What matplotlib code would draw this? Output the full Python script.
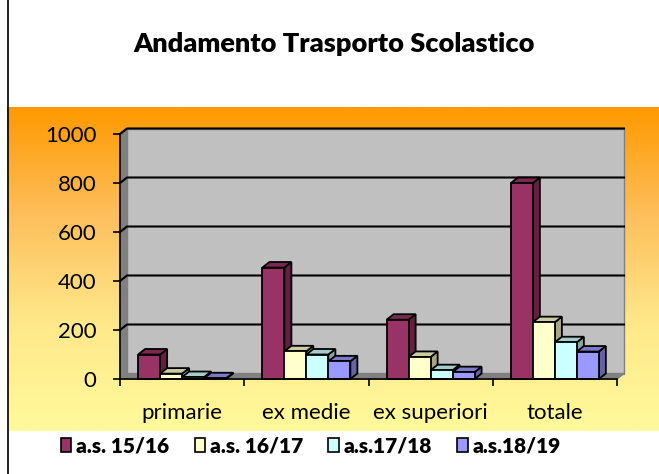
import numpy as np
import matplotlib.pyplot as plt
from matplotlib.patches import Polygon, Patch
from matplotlib.colors import LinearSegmentedColormap, to_rgb

# --- data ---
categories = ["primarie", "ex medie", "ex superiori", "totale"]
series_names = ["a.s. 15/16", "a.s. 16/17", "a.s.17/18", "a.s.18/19"]
as_15_16 = [100, 455, 242, 800]
as_16_17 = [22, 113, 90, 232]
as_17_18 = [8, 100, 36, 150]
as_18_19 = [3, 72, 28, 112]
yticks = [0, 200, 400, 600, 800, 1000]

series = [as_15_16, as_16_17, as_17_18, as_18_19]
colors = ["#993366", "#FFFFCC", "#CCFFFF", "#9999FF"]

plt.rcParams['font.family'] = ['Lato', 'DejaVu Sans']

W, H = 659, 474
fig = plt.figure(figsize=(W / 100, H / 100), dpi=100)

# orange -> yellow background band
bg = fig.add_axes([7 / W, (H - 431) / H, 1 - 7 / W, (431 - 107) / H])
grad = np.linspace(0, 1, 256).reshape(-1, 1)
cmap = LinearSegmentedColormap.from_list("band", ["#FF9900", "#FDBF5C", "#FFE88A", "#FFFA9C"])
bg.imshow(grad, aspect="auto", cmap=cmap, extent=[0, 1, 0, 1], origin="upper")
bg.axis("off")

# left border line
fig.add_artist(plt.Line2D([7.5 / W, 7.5 / W], [0, 1], color="black", lw=1.2))

fig.text(334 / W, 1 - 44 / H, "Andamento Trasporto Scolastico", ha="center", va="center",
         fontsize=19.5, fontweight="heavy")

ax = fig.add_axes([120 / W, (H - 379) / H, 497 / W, 245 / H])
ax.set_xlim(0, len(categories))
ax.set_ylim(0, 1000)
ax.patch.set_alpha(0)
for s in ax.spines.values():
    s.set_visible(False)

n = len(categories)
dx = 7 / 124.25          # depth in category units
dy = 5.5 / 245 * 1000    # depth in value units

def poly(pts, fc, ec="black", lw=1.3, z=1):
    ax.add_patch(Polygon(pts, closed=True, facecolor=fc, edgecolor=ec, lw=lw,
                         clip_on=False, zorder=z, joinstyle="miter"))

# walls and floor
poly([(dx, dy), (n + dx, dy), (n + dx, 1000 + dy), (dx, 1000 + dy)], "#C0C0C0", ec="#808080", lw=1)
poly([(0, 0), (dx, dy), (dx, 1000 + dy), (0, 1000)], "#808080", ec="#808080", lw=1)
poly([(0, 0), (n, 0), (n + dx, dy), (dx, dy)], "#808080", ec="#808080", lw=1)
for v in yticks[1:]:
    ax.plot([0, dx, n + dx], [v, v + dy, v + dy], color="black", lw=1.5, clip_on=False, zorder=1.5)

# axis lines
ax.plot([0, 0], [0, 1000], color="black", lw=1.2, clip_on=False, zorder=5)
ax.plot([0, n], [0, 0], color="black", lw=1.2, clip_on=False, zorder=5)

def shade(c, f):
    r, g, b = to_rgb(c)
    return (r * f, g * f, b * f)

w = 0.177
start = (1 - len(series) * w) / 2
for i in range(n):
    for j, vals in enumerate(series):
        x0 = i + start + j * w
        h = vals[i]
        c = colors[j]
        poly([(x0 + w, 0), (x0 + w + dx, dy), (x0 + w + dx, h + dy), (x0 + w, h)], shade(c, 0.65), z=2)
        poly([(x0, h), (x0 + w, h), (x0 + w + dx, h + dy), (x0 + dx, h + dy)], shade(c, 0.8), z=2)
        poly([(x0, 0), (x0 + w, 0), (x0 + w, h), (x0, h)], c, z=2)

ax.set_yticks(yticks)
ax.tick_params(axis="y", length=5, width=1.2, pad=12, labelsize=16)
ax.set_xticks(np.arange(n) + 0.5)
ax.set_xticklabels(categories)
ax.set_xticks(np.arange(n + 1), minor=True)
ax.tick_params(axis="x", which="major", length=0, pad=17, labelsize=16)
ax.tick_params(axis="x", which="minor", length=5, width=1.2)

handles = [Patch(facecolor=c, edgecolor="black", lw=1.2) for c in colors]
fig.legend(handles, series_names, loc="center", bbox_to_anchor=(311 / W, 1 - 446 / H),
           ncol=4, frameon=False, handlelength=0.5, handleheight=0.65, handletextpad=0.25,
           columnspacing=1.2, prop={"weight": "heavy", "size": 15})

fig.savefig("out.png", dpi=100)
